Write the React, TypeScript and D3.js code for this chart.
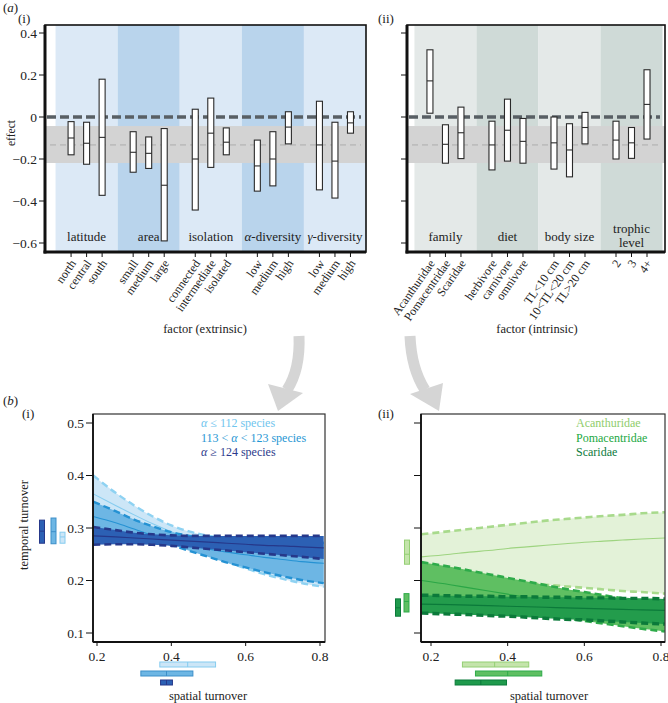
import React from "react";
import * as d3 from "d3";

// ---------------- data ----------------
const extrinsicGroups = ["latitude", "area", "isolation", "α-diversity", "γ-diversity"];
const extrinsicLevels = ["north", "central", "south", "small", "medium", "large", "connected", "intermediate", "isolated", "low", "medium", "high", "low", "medium", "high"];
const extrinsicGroupIndex = [0, 0, 0, 1, 1, 1, 2, 2, 2, 3, 3, 3, 4, 4, 4];
const extrinsicLow = [-0.18, -0.225, -0.373, -0.263, -0.245, -0.59, -0.443, -0.24, -0.18, -0.353, -0.328, -0.128, -0.347, -0.386, -0.077];
const extrinsicMid = [-0.1, -0.125, -0.097, -0.168, -0.173, -0.325, -0.2, -0.077, -0.12, -0.233, -0.2, -0.048, -0.133, -0.21, -0.028];
const extrinsicHigh = [-0.022, -0.025, 0.18, -0.07, -0.095, -0.055, 0.037, 0.09, -0.052, -0.11, -0.07, 0.025, 0.075, -0.025, 0.025];

const intrinsicGroups = ["family", "diet", "body size", "trophic|level"];
const intrinsicLevels = ["Acanthuridae", "Pomacentridae", "Scaridae", "herbivore", "carnivore", "omnivore", "TL<10 cm", "10<TL<20 cm", "TL>20 cm", "2", "3", "4+"];
const intrinsicGroupIndex = [0, 0, 0, 1, 1, 1, 2, 2, 2, 3, 3, 3];
const intrinsicLow = [0.018, -0.22, -0.198, -0.252, -0.21, -0.22, -0.248, -0.285, -0.128, -0.2, -0.197, -0.105];
const intrinsicMid = [0.172, -0.13, -0.075, -0.133, -0.063, -0.116, -0.123, -0.157, -0.05, -0.11, -0.123, 0.06];
const intrinsicHigh = [0.32, -0.037, 0.047, -0.02, 0.085, -0.007, 0, -0.032, 0.022, -0.02, -0.05, 0.225];

const effectTicks = [0.4, 0.2, 0, -0.2, -0.4, -0.6];
const meanEffect = -0.133;
const meanEffectLow = -0.219;
const meanEffectHigh = -0.043;

const turnoverTicks = [0.1, 0.2, 0.3, 0.4, 0.5];
const spatialTicks = [0.2, 0.4, 0.6, 0.8];

// panel b(i): alpha-diversity groups
const alphaNames = ["α ≤ 112 species", "113 < α < 123 species", "α ≥ 124 species"];
const alphaX = [0.19, 0.25, 0.3, 0.35, 0.4, 0.45, 0.5, 0.55, 0.6, 0.65, 0.7, 0.75, 0.81];
const alphaLowUpper = [0.4, 0.367, 0.343, 0.322, 0.305, 0.293, 0.285, 0.28, 0.277, 0.275, 0.273, 0.272, 0.271];
const alphaLowMean = [0.365, 0.343, 0.325, 0.308, 0.293, 0.28, 0.27, 0.261, 0.254, 0.248, 0.242, 0.237, 0.232];
const alphaLowLower = [0.33, 0.318, 0.305, 0.292, 0.279, 0.265, 0.25, 0.236, 0.223, 0.212, 0.203, 0.195, 0.188];
const alphaMidUpper = [0.35, 0.332, 0.316, 0.303, 0.292, 0.285, 0.28, 0.278, 0.276, 0.275, 0.274, 0.273, 0.272];
const alphaMidMean = [0.322, 0.31, 0.298, 0.286, 0.276, 0.268, 0.26, 0.254, 0.249, 0.244, 0.24, 0.236, 0.233];
const alphaMidLower = [0.295, 0.29, 0.284, 0.278, 0.268, 0.256, 0.245, 0.234, 0.225, 0.216, 0.208, 0.201, 0.195];
const alphaHighUpper = [0.302, 0.296, 0.291, 0.288, 0.286, 0.285, 0.285, 0.285, 0.285, 0.285, 0.285, 0.285, 0.285];
const alphaHighMean = [0.285, 0.283, 0.281, 0.279, 0.277, 0.275, 0.273, 0.271, 0.269, 0.267, 0.266, 0.264, 0.262];
const alphaHighLower = [0.268, 0.269, 0.269, 0.268, 0.266, 0.263, 0.26, 0.257, 0.254, 0.251, 0.248, 0.245, 0.241];
// marginal boxes (low, median, high)
const alphaTemporalLow = [0.271, 0.27, 0.271];
const alphaTemporalMid = [0.283, 0.293, 0.294];
const alphaTemporalHigh = [0.292, 0.319, 0.315];
const alphaSpatialLow = [0.369, 0.318, 0.371];
const alphaSpatialMid = [0.444, 0.387, 0.387];
const alphaSpatialHigh = [0.519, 0.458, 0.403];

// panel b(ii): families
const familyNames = ["Acanthuridae", "Pomacentridae", "Scaridae"];
const familyX = [0.175, 0.25, 0.3, 0.35, 0.4, 0.45, 0.5, 0.55, 0.6, 0.65, 0.7, 0.75, 0.81];
const acanUpper = [0.288, 0.294, 0.298, 0.302, 0.306, 0.31, 0.314, 0.317, 0.32, 0.323, 0.325, 0.328, 0.33];
const acanMean = [0.245, 0.25, 0.254, 0.257, 0.261, 0.264, 0.267, 0.27, 0.273, 0.275, 0.277, 0.279, 0.281];
const acanLower = [0.205, 0.203, 0.201, 0.199, 0.197, 0.195, 0.192, 0.189, 0.186, 0.183, 0.18, 0.178, 0.175];
const pomaUpper = [0.235, 0.226, 0.219, 0.212, 0.205, 0.198, 0.191, 0.184, 0.178, 0.172, 0.166, 0.161, 0.156];
const pomaMean = [0.2, 0.192, 0.186, 0.18, 0.174, 0.168, 0.162, 0.156, 0.15, 0.145, 0.14, 0.135, 0.13];
const pomaLower = [0.165, 0.158, 0.153, 0.148, 0.143, 0.138, 0.133, 0.128, 0.123, 0.118, 0.113, 0.108, 0.103];
const scarUpper = [0.172, 0.171, 0.17, 0.17, 0.169, 0.169, 0.168, 0.168, 0.167, 0.167, 0.166, 0.166, 0.165];
const scarMean = [0.155, 0.154, 0.153, 0.152, 0.151, 0.15, 0.149, 0.148, 0.147, 0.146, 0.145, 0.144, 0.143];
const scarLower = [0.138, 0.136, 0.135, 0.133, 0.132, 0.13, 0.128, 0.126, 0.125, 0.123, 0.121, 0.119, 0.117];
const familyTemporalLow = [0.231, 0.14, 0.132];
const familyTemporalMid = [0.25, 0.16, 0.148];
const familyTemporalHigh = [0.277, 0.175, 0.165];
const familySpatialLow = [0.282, 0.316, 0.263];
const familySpatialMid = [0.366, 0.4, 0.33];
const familySpatialHigh = [0.455, 0.489, 0.397];

// ---------------- styling ----------------
const FONT = "'Liberation Serif', 'DejaVu Serif', serif";
const yEffect = d3.scaleLinear().domain([-0.6, 0.4]).range([243, 33]);
const yTurn = d3.scaleLinear().domain([0.1, 0.5]).range([633, 423]);
const xTurnLeft = d3.scaleLinear().domain([0.2, 0.8]).range([97, 320]);
const xTurnRight = d3.scaleLinear().domain([0.2, 0.8]).range([431, 661]);

const fmtEffect = (v: number) => (v === 0 ? "0" : (v < 0 ? "\u2212" : "") + Math.abs(v).toFixed(1));

function greek(s: string) {
  return s.split(/(α|γ)/).map((part, i) =>
    part === "α" || part === "γ" ? (
      <tspan key={i} fontStyle="italic">{part}</tspan>
    ) : (
      <tspan key={i}>{part}</tspan>
    )
  );
}

function slotsOf(groupIdx: number[]) {
  return groupIdx.map((g, i) => g * 4 + (i - groupIdx.indexOf(g)));
}

type EffectProps = {
  x0: number; x1: number; slotDomain: [number, number];
  levels: string[]; groupIdx: number[]; groups: string[];
  low: number[]; mid: number[]; high: number[];
  colLight: string; colDark: string; showTickLabels: boolean;
};

function EffectPanel(p: EffectProps) {
  const top = 25, bottom = 252;
  const xs = d3.scaleLinear().domain(p.slotDomain).range([p.x0, p.x1]);
  const slots = slotsOf(p.groupIdx);
  return (
    <g>
      {p.groups.map((g, gi) => {
        const a = Math.max(p.x0, xs(gi * 4 - 1));
        const b = Math.min(p.x1, xs(gi * 4 + 3));
        const lines = g.split("|");
        return (
          <g key={gi}>
            <rect x={a} y={top} width={b - a} height={bottom - top} fill={gi % 2 === 0 ? p.colLight : p.colDark} />
            {lines.map((ln, li) => (
              <text key={li} x={(a + b) / 2} y={lines.length === 1 ? 241 : 233 + li * 14} textAnchor="middle" fontSize={13} fill="#222">
                {greek(ln)}
              </text>
            ))}
          </g>
        );
      })}
      <rect x={p.x0} y={yEffect(meanEffectHigh)} width={p.x1 - p.x0} height={yEffect(meanEffectLow) - yEffect(meanEffectHigh)} fill="#d3d3d3" />
      <line x1={p.x0 + 5} x2={p.x1 - 5} y1={yEffect(meanEffect)} y2={yEffect(meanEffect)} stroke="#bdbdbd" strokeWidth={1.8} strokeDasharray="6,4" />
      <line x1={p.x0 + 2} x2={p.x1 - 5} y1={yEffect(0)} y2={yEffect(0)} stroke="#585f64" strokeWidth={3.5} strokeDasharray="9,4" />
      {slots.map((s, i) => {
        const cx = xs(s);
        return (
          <g key={i}>
            <rect x={cx - 3} y={yEffect(p.high[i])} width={6} height={yEffect(p.low[i]) - yEffect(p.high[i])} fill="#fff" stroke="#2a2a2a" strokeWidth={1.1} />
            <line x1={cx - 3} x2={cx + 3} y1={yEffect(p.mid[i])} y2={yEffect(p.mid[i])} stroke="#2a2a2a" strokeWidth={1.1} />
            <line x1={cx} x2={cx} y1={bottom} y2={bottom + 5} stroke="#111" strokeWidth={1} />
            <text transform={`translate(${cx + 2},${bottom + 9}) rotate(-55)`} textAnchor="end" dy="0.35em" fontSize={12} fill="#222">
              {p.levels[i]}
            </text>
          </g>
        );
      })}
      <rect x={p.x0} y={top} width={p.x1 - p.x0} height={bottom - top} fill="none" stroke="#111" strokeWidth={1.6} />
      <line x1={p.x0} x2={p.x0} y1={top} y2={bottom + 1.5} stroke="#111" strokeWidth={3} />
      <line x1={p.x0 - 1.5} x2={p.x1} y1={bottom} y2={bottom} stroke="#111" strokeWidth={3} />
      {effectTicks.map((t) => (
        <g key={t}>
          <line x1={p.x0 - 6} x2={p.x0} y1={yEffect(t)} y2={yEffect(t)} stroke="#111" strokeWidth={1} />
          {p.showTickLabels && (
            <text x={p.x0 - 8} y={yEffect(t)} dy="0.35em" textAnchor="end" fontSize={13.5} fill="#222">
              {fmtEffect(t)}
            </text>
          )}
        </g>
      ))}
    </g>
  );
}

type Band = { upper: number[]; mean: number[]; lower: number[]; fill: string; dash: string; dashW: number; meanC: string; meanW: number };

type TurnProps = {
  id: string; x0: number; x1: number; xs: d3.ScaleLinear<number, number>; xData: number[];
  bands: Band[]; showTickLabels: boolean;
  names: string[]; nameColors: string[]; legendX: number;
  tLow: number[]; tMid: number[]; tHigh: number[]; tX: number[];
  sLow: number[]; sMid: number[]; sHigh: number[];
  boxFill: string[]; boxStroke: string[];
};

function TurnoverPanel(p: TurnProps) {
  const top = 414, bottom = 642;
  const area = (b: Band) =>
    d3.area<number>().x((d, i) => p.xs(p.xData[i])).y0((d, i) => yTurn(b.lower[i])).y1((d, i) => yTurn(b.upper[i])).curve(d3.curveMonotoneX)(p.xData) || "";
  const line = (vals: number[]) =>
    d3.line<number>().x((d, i) => p.xs(p.xData[i])).y((d, i) => yTurn(vals[i])).curve(d3.curveMonotoneX)(p.xData) || "";
  return (
    <g>
      <defs>
        <clipPath id={p.id}>
          <rect x={p.x0} y={top} width={p.x1 - p.x0} height={bottom - top} />
        </clipPath>
      </defs>
      <g clipPath={`url(#${p.id})`}>
        {p.bands.map((b, i) => (
          <g key={i}>
            <path d={area(b)} fill={b.fill} />
            <path d={line(b.mean)} fill="none" stroke={b.meanC} strokeWidth={b.meanW} />
            <path d={line(b.upper)} fill="none" stroke={b.dash} strokeWidth={b.dashW} strokeDasharray="7,4" />
            <path d={line(b.lower)} fill="none" stroke={b.dash} strokeWidth={b.dashW} strokeDasharray="7,4" />
          </g>
        ))}
      </g>
      <rect x={p.x0} y={top} width={p.x1 - p.x0} height={bottom - top} fill="none" stroke="#333" strokeWidth={1.2} />
      <line x1={p.x0} x2={p.x0} y1={top} y2={bottom} stroke="#111" strokeWidth={1.8} />
      <line x1={p.x0} x2={p.x1} y1={bottom} y2={bottom} stroke="#111" strokeWidth={1.8} />
      {turnoverTicks.map((t) => (
        <g key={t}>
          <line x1={p.x0 - 7} x2={p.x0} y1={yTurn(t)} y2={yTurn(t)} stroke="#111" strokeWidth={1} />
          {p.showTickLabels && (
            <text x={p.x0 - 9} y={yTurn(t)} dy="0.35em" textAnchor="end" fontSize={13.5} fill="#222">
              {t.toFixed(1)}
            </text>
          )}
        </g>
      ))}
      {spatialTicks.map((t) => (
        <g key={t}>
          <line x1={p.xs(t)} x2={p.xs(t)} y1={bottom} y2={bottom + 4} stroke="#111" strokeWidth={1} />
          <text x={p.xs(t)} y={656} dy="0.35em" textAnchor="middle" fontSize={13.5} fill="#222">
            {t.toFixed(1)}
          </text>
        </g>
      ))}
      {p.names.map((n, i) => (
        <text key={n} x={p.legendX} y={427 + i * 14.5} fontSize={12} fill={p.nameColors[i]}>
          {greek(n)}
        </text>
      ))}
      {/* temporal marginal boxes */}
      {p.tX.map((x, i) => (
        <g key={"t" + i}>
          <rect x={x - 2.5} y={yTurn(p.tHigh[i])} width={5} height={yTurn(p.tLow[i]) - yTurn(p.tHigh[i])} fill={p.boxFill[i]} stroke={p.boxStroke[i]} strokeWidth={1} />
          <line x1={x - 2.5} x2={x + 2.5} y1={yTurn(p.tMid[i])} y2={yTurn(p.tMid[i])} stroke={p.boxStroke[i]} strokeWidth={1} />
        </g>
      ))}
      {/* spatial marginal boxes */}
      {p.sLow.map((v, i) => (
        <g key={"s" + i}>
          <rect x={p.xs(v)} y={662 + i * 9} width={p.xs(p.sHigh[i]) - p.xs(v)} height={5} fill={p.boxFill[i]} stroke={p.boxStroke[i]} strokeWidth={1} />
          <line x1={p.xs(p.sMid[i])} x2={p.xs(p.sMid[i])} y1={662 + i * 9} y2={667 + i * 9} stroke={p.boxStroke[i]} strokeWidth={1} />
        </g>
      ))}
      <text x={(p.x0 + p.x1) / 2 + (p.id === "clipL" ? -1 : 6)} y={700} textAnchor="middle" fontSize={12.5} fill="#222">
        spatial turnover
      </text>
    </g>
  );
}

export default function App() {
  const alphaBands: Band[] = [
    { upper: alphaLowUpper, mean: alphaLowMean, lower: alphaLowLower, fill: "#cce6f7", dash: "#8ed2f2", dashW: 2.4, meanC: "#86ccef", meanW: 1.1 },
    { upper: alphaMidUpper, mean: alphaMidMean, lower: alphaMidLower, fill: "#6db6e4", dash: "#2592d3", dashW: 2.4, meanC: "#2592d3", meanW: 1.1 },
    { upper: alphaHighUpper, mean: alphaHighMean, lower: alphaHighLower, fill: "#2c60b4", dash: "#26388a", dashW: 2.6, meanC: "#26388a", meanW: 1.2 },
  ];
  const familyBands: Band[] = [
    { upper: acanUpper, mean: acanMean, lower: acanLower, fill: "#e3f2d8", dash: "#a8da8c", dashW: 2.6, meanC: "#9ed480", meanW: 1.1 },
    { upper: pomaUpper, mean: pomaMean, lower: pomaLower, fill: "#5fbf62", dash: "#2eab4a", dashW: 2.6, meanC: "#2aa646", meanW: 1.1 },
    { upper: scarUpper, mean: scarMean, lower: scarLower, fill: "#239c4c", dash: "#0b7a3a", dashW: 3.4, meanC: "#0b7a3a", meanW: 1.2 },
  ];
  return (
    <svg width={668} height={703} style={{ position: "absolute", left: 0, top: 0, fontFamily: FONT }}>
      <rect x={0} y={0} width={668} height={703} fill="#fff" />
      {/* panel labels */}
      <text x={3} y={12} fontSize={13} fill="#222">(<tspan fontStyle="italic">a</tspan>)</text>
      <text x={18} y={23} fontSize={13} fill="#222">(i)</text>
      <text x={378} y={23} fontSize={13} fill="#222">(ii)</text>
      <text x={3} y={405} fontSize={13} fill="#222">(<tspan fontStyle="italic">b</tspan>)</text>
      <text x={22} y={418} fontSize={13} fill="#222">(i)</text>
      <text x={378} y={418} fontSize={13} fill="#222">(ii)</text>

      <EffectPanel x0={45} x1={366} slotDomain={[-1.68, 19]} levels={extrinsicLevels} groupIdx={extrinsicGroupIndex} groups={extrinsicGroups}
        low={extrinsicLow} mid={extrinsicMid} high={extrinsicHigh} colLight="#dce9f6" colDark="#b9d4ec" showTickLabels={true} />
      <EffectPanel x0={407} x1={665} slotDomain={[-1.48, 15.16]} levels={intrinsicLevels} groupIdx={intrinsicGroupIndex} groups={intrinsicGroups}
        low={intrinsicLow} mid={intrinsicMid} high={intrinsicHigh} colLight="#e4e9e8" colDark="#cfdad7" showTickLabels={false} />

      <text transform="translate(15,133) rotate(-90)" textAnchor="middle" fontSize={11.5} fill="#222">effect</text>
      <text x={205} y={333} textAnchor="middle" fontSize={12.5} fill="#222">factor (extrinsic)</text>
      <text x={537} y={333} textAnchor="middle" fontSize={12.5} fill="#222">factor (intrinsic)</text>

      {/* connecting arrows */}
      <path d="M299,336 C300,360 296,376 287,390" stroke="#d5d5d5" strokeWidth={11} fill="none" />
      <path d="M268,384 L303,393 L278,411 Z" fill="#d5d5d5" />
      <path d="M410,336 C411,360 416,376 425,390" stroke="#d5d5d5" strokeWidth={11} fill="none" />
      <path d="M410,394 L443,383 L439,411 Z" fill="#d5d5d5" />

      <TurnoverPanel id="clipL" x0={93} x1={325} xs={xTurnLeft} xData={alphaX} bands={alphaBands} showTickLabels={true}
        names={alphaNames} nameColors={["#6fc5ee", "#1f96d3", "#2b3a8b"]} legendX={201}
        tLow={alphaTemporalLow} tMid={alphaTemporalMid} tHigh={alphaTemporalHigh} tX={[62.5, 53.5, 42]}
        sLow={alphaSpatialLow} sMid={alphaSpatialMid} sHigh={alphaSpatialHigh}
        boxFill={["#cce6f7", "#6db6e4", "#2c60b4"]} boxStroke={["#86ccef", "#3d8fc9", "#26388a"]} />
      <TurnoverPanel id="clipR" x0={421} x1={665} xs={xTurnRight} xData={familyX} bands={familyBands} showTickLabels={false}
        names={familyNames} nameColors={["#8fcd6c", "#22a83f", "#0d7b3d"]} legendX={576}
        tLow={familyTemporalLow} tMid={familyTemporalMid} tHigh={familyTemporalHigh} tX={[407, 406.5, 398]}
        sLow={familySpatialLow} sMid={familySpatialMid} sHigh={familySpatialHigh}
        boxFill={["#c4e4ab", "#5fbf62", "#1f9a4c"]} boxStroke={["#94cf74", "#2eab4a", "#0b7a3a"]} />
      <text transform="translate(28,525) rotate(-90)" textAnchor="middle" fontSize={12.5} fill="#222">temporal turnover</text>
    </svg>
  );
}
